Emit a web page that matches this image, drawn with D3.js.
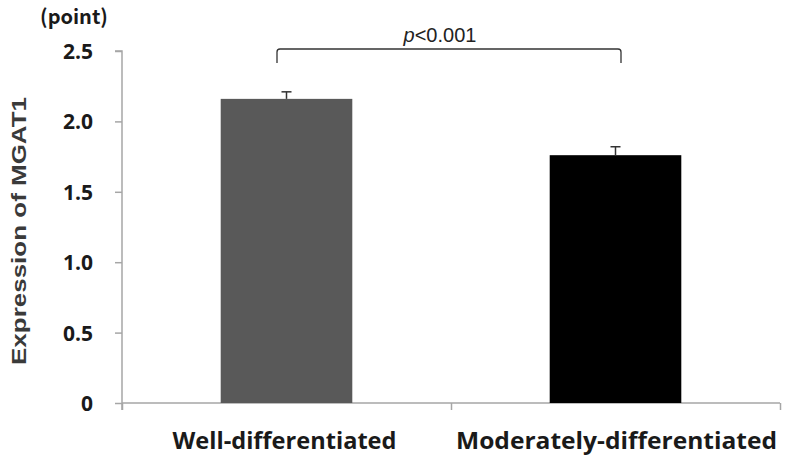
<!DOCTYPE html>
<html><head><meta charset="utf-8">
<script src="https://cdn.jsdelivr.net/npm/d3@7"></script>
<style>body{margin:0;background:#fff}svg{display:block}</style>
</head><body>
<script>
const categories = ["Well-differentiated", "Moderately-differentiated"];
const means = [2.16, 1.76];
const errors = [0.05, 0.06];
const colors = ["#595959", "#000000"];
const yTicks = [0, 0.5, 1.0, 1.5, 2.0, 2.5];
const yTickLabels = ["0", "0.5", "1.0", "1.5", "2.0", "2.5"];
const pLabel = "0.001";

const W = 787, H = 460;
const svg = d3.select("body").append("svg").attr("width", W).attr("height", H);
const x0 = 122, x1 = 780, yTop = 51, yBot = 403;
const y = d3.scaleLinear().domain([0, 2.5]).range([yBot, yTop]);
const x = d3.scaleBand().domain(categories).range([x0, x1]).paddingInner(0.6).paddingOuter(0.3);

// y axis
const yAxis = d3.axisLeft(y).tickValues(yTicks).tickFormat((d,i)=>yTickLabels[i]).tickSize(7).tickPadding(22);
const gy = svg.append("g").attr("transform", `translate(${x0},0)`).call(yAxis);
gy.select(".domain").attr("stroke", "#a6a6a6").attr("stroke-width", 1.5).attr("d", `M-7,${yTop}H0V${yBot+7}`);
gy.selectAll(".tick line").attr("stroke", "#a6a6a6").attr("stroke-width", 1.5);
gy.selectAll(".tick text").attr("font-family", "'Open Sans', sans-serif").attr("font-weight", "bold")
  .attr("font-size", 21).attr("fill", "#1a1a1a").attr("dy", "0.36em");

// x axis
const xb = d3.scaleLinear().domain([0, 2]).range([x0, x1]);
const gx = svg.append("g").attr("transform", `translate(0,${yBot})`)
  .call(d3.axisBottom(xb).tickValues([0,1,2]).tickFormat("").tickSize(7));
gx.select(".domain").attr("stroke", "#a6a6a6").attr("stroke-width", 1.5).attr("d", `M${x0},0H${x1}`);
gx.selectAll(".tick line").attr("stroke", "#a6a6a6").attr("stroke-width", 1.5);

// category labels
const labelCenters = [0.5, 1.5];
svg.append("g").selectAll("text").data(categories).join("text")
  .attr("x", (d,i)=>xb(labelCenters[i]) - (i===0?2:-1))
  .attr("y", 449)
  .attr("text-anchor", "middle")
  .attr("font-family", "'Open Sans', sans-serif").attr("font-weight", "bold").attr("font-size", 24)
  .attr("fill", "#1a1a1a")
  .attr("textLength", (d,i)=> i===0 ? 224 : 321).attr("lengthAdjust", "spacingAndGlyphs")
  .text(d=>d);

// bars
svg.append("g").selectAll("rect").data(categories).join("rect")
  .attr("x", d=>x(d)).attr("width", x.bandwidth())
  .attr("y", (d,i)=>y(means[i])).attr("height", (d,i)=>y(0)-y(means[i]))
  .attr("fill", (d,i)=>colors[i]);

// error bars
const eb = svg.append("g").selectAll("g").data(categories).join("g");
eb.append("line").attr("x1", d=>x(d)+x.bandwidth()/2).attr("x2", d=>x(d)+x.bandwidth()/2)
  .attr("y1", (d,i)=>y(means[i])).attr("y2", (d,i)=>y(means[i]+errors[i]))
  .attr("stroke", "#333").attr("stroke-width", 1.5);
eb.append("line").attr("x1", d=>x(d)+x.bandwidth()/2-5).attr("x2", d=>x(d)+x.bandwidth()/2+5)
  .attr("y1", (d,i)=>y(means[i]+errors[i])).attr("y2", (d,i)=>y(means[i]+errors[i]))
  .attr("stroke", "#333").attr("stroke-width", 1.5);

// significance bracket
const bx1 = 277, bx2 = 621, by = 49, byEnd = 63, r = 3;
svg.append("path")
  .attr("d", `M${bx1},${byEnd}V${by+r}Q${bx1},${by} ${bx1+r},${by}H${bx2-r}Q${bx2},${by} ${bx2},${by+r}V${byEnd}`)
  .attr("fill", "none").attr("stroke", "#333").attr("stroke-width", 1.3);
const pt = svg.append("text").attr("x", 440).attr("y", 42).attr("text-anchor", "middle")
  .attr("font-family", "'Liberation Sans', Arial, sans-serif").attr("font-size", 20).attr("fill", "#222");
pt.append("tspan").attr("font-style", "italic").text("p");
pt.append("tspan").text("<" + pLabel);

// unit label
svg.append("text").attr("x", 74).attr("y", 24).attr("text-anchor", "middle")
  .attr("font-family", "'Noto Sans CJK JP', 'Open Sans', sans-serif").attr("font-weight", "bold")
  .attr("font-size", 20).attr("fill", "#1a1a1a").text("(point)");

// y title
svg.append("text").attr("transform", "translate(26,231) rotate(-90)").attr("text-anchor", "middle")
  .attr("font-family", "'Liberation Sans', Arial, sans-serif").attr("font-weight", "bold")
  .attr("font-size", 20).attr("fill", "#3a3a3a")
  .attr("textLength", 268).attr("lengthAdjust", "spacingAndGlyphs")
  .text("Expression of MGAT1");
</script>
</body></html>
